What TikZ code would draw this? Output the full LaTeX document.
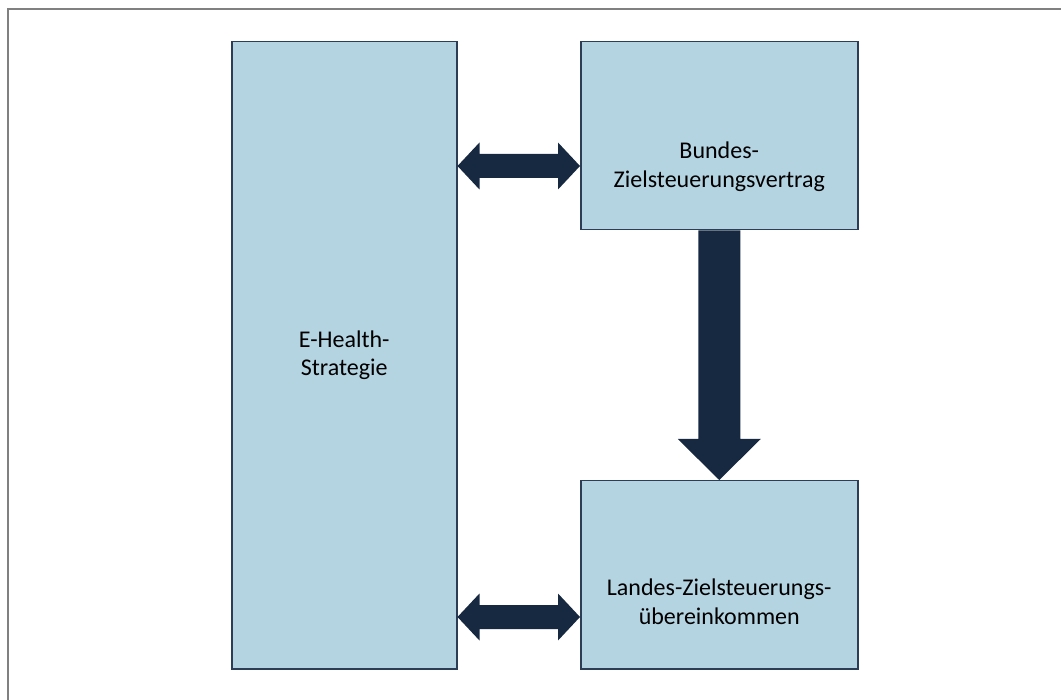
\documentclass[tikz,border=0pt]{standalone}
\usepackage{fontspec}
\setmainfont{Carlito}
\usetikzlibrary{calc}

\definecolor{boxfill}{RGB}{180,212,226}
\definecolor{boxline}{RGB}{44,62,86}
\definecolor{arrowfill}{RGB}{23,41,64}
\definecolor{framecol}{RGB}{128,128,128}

\tikzset{
  box/.style={draw=boxline, fill=boxfill, line width=1.5pt, anchor=north west, inner sep=0pt},
  boxtext/.style={align=center, font=\fontsize{24}{28.5}\selectfont},
  bigarrow/.style={fill=arrowfill}
}

% double arrow between two tips (left, right)
\newcommand{\dblarrow}[2]{%
  \fill[bigarrow] (#1) -- ++(22,-23.5) -- ++(0,11.5) -- ($(#2)+(-22,-12)$) -- ++(0,-11.5)
    -- (#2) -- ++(-22,23.5) -- ++(0,-11.5) -- ($(#1)+(22,12)$) -- ++(0,11.5) -- cycle;}

\begin{document}
\begin{tikzpicture}[x=1pt, y=-1pt]
  \useasboundingbox (0,0) rectangle (1061,700);
  \draw[framecol, line width=2pt] (8,700) -- (8,9) -- (1061,9);

  \node[box, minimum width=225pt, minimum height=627pt] (ehealth) at (231,41) {};
  \node[box, minimum width=277pt, minimum height=188pt] (bund) at (580,41) {};
  \node[box, minimum width=277pt, minimum height=188pt] (land) at (580,480) {};

  \node[boxtext] (ehtext) at (ehealth.center) {E-Health-\\Strategie};
  \node[boxtext] (bundtext) at ($(bund.center)+(0,31)$) {Bundes-\\Zielsteuerungsvertrag};
  \node[boxtext] (landtext) at ($(land.center)+(0,27)$) {Landes-Zielsteuerungs-\\übereinkommen};

  % arrows
  \coordinate (a1) at (ehealth.east |- 0,166);
  \coordinate (b1) at (bund.west |- 0,166);
  \coordinate (a2) at (ehealth.east |- 0,617);
  \coordinate (b2) at (land.west |- 0,617);
  \dblarrow{a1}{b1}
  \dblarrow{a2}{b2}
  \fill[bigarrow] ($(bund.south)+(-21,0)$) -- ($(land.north)+(-21,-41)$) -- ++(-20.5,0)
    -- (land.north) -- ++(41.5,-41) -- ++(-20.5,0) -- ($(bund.south)+(21,0)$) -- cycle;
\end{tikzpicture}
\end{document}
